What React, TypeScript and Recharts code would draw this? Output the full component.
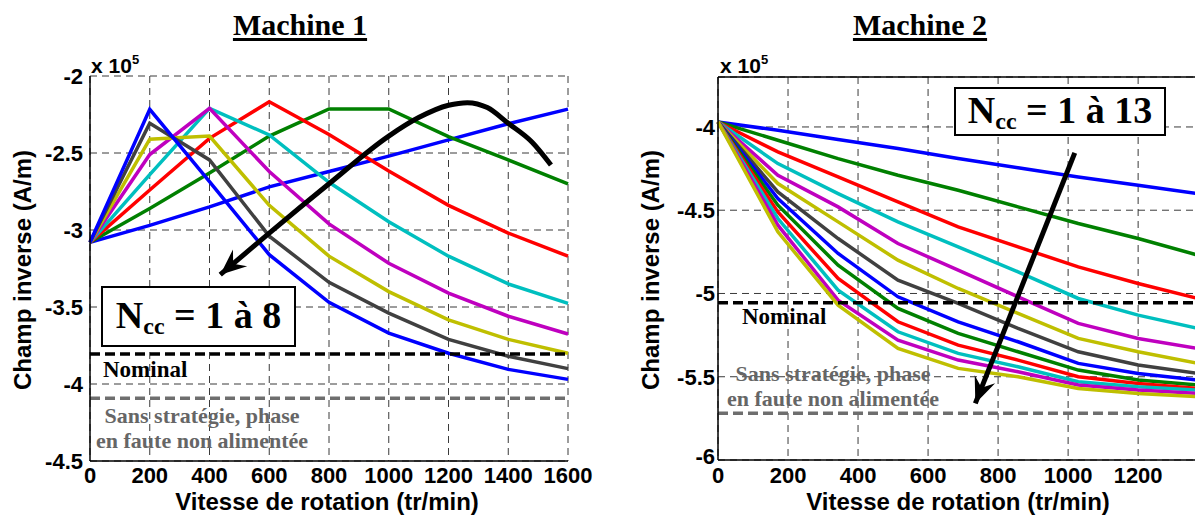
import { LineChart, Line, XAxis, YAxis, CartesianGrid, ReferenceLine } from 'recharts';

// Machine 1 : champ inverse (x 1e5 A/m) vs vitesse, Ncc = 1..8
const speedM1 = [0, 200, 400, 600, 800, 1000, 1200, 1400, 1600];
const m1Ncc1 = [-3.08, -2.97, -2.85, -2.72, -2.62, -2.52, -2.415, -2.31, -2.215];
const m1Ncc2 = [-3.08, -2.86, -2.63, -2.39, -2.214, -2.214, -2.394, -2.545, -2.7];
const m1Ncc3 = [-3.08, -2.74, -2.405, -2.167, -2.38, -2.617, -2.84, -3.02, -3.17];
const m1Ncc4 = [-3.08, -2.64, -2.21, -2.383, -2.69, -2.946, -3.17, -3.35, -3.476];
const m1Ncc5 = [-3.08, -2.51, -2.21, -2.62, -2.96, -3.216, -3.41, -3.56, -3.675];
const m1Ncc6 = [-3.08, -2.41, -2.39, -2.84, -3.17, -3.4, -3.584, -3.71, -3.8];
const m1Ncc7 = [-3.08, -2.307, -2.545, -3.04, -3.34, -3.54, -3.71, -3.82, -3.9];
const m1Ncc8 = [-3.08, -2.216, -2.686, -3.16, -3.47, -3.67, -3.8, -3.905, -3.97];
const m1Nominal = -3.805;
const m1SansStrategie = -4.093;
const m1XTicks = [0, 200, 400, 600, 800, 1000, 1200, 1400, 1600];
const m1YTicks = [-4.5, -4, -3.5, -3, -2.5, -2];
// annotation arrow (data units)
const arrowM1X = [436, 600, 800, 1000, 1100, 1200, 1263, 1330, 1400, 1480, 1543];
const arrowM1Y = [-3.29, -3.02, -2.7, -2.39, -2.27, -2.19, -2.173, -2.205, -2.307, -2.43, -2.578];

// Machine 2 : Ncc = 1..13
const speedM2 = [0, 171, 343, 514, 686, 857, 1029, 1200, 1371];
const m2Ncc1 = [-3.97, -4.02, -4.075, -4.13, -4.19, -4.245, -4.3, -4.35, -4.4];
const m2Ncc2 = [-3.97, -4.08, -4.19, -4.29, -4.38, -4.48, -4.58, -4.67, -4.77];
const m2Ncc3 = [-3.97, -4.15, -4.3, -4.45, -4.6, -4.72, -4.84, -4.94, -5.03];
const m2Ncc4 = [-3.97, -4.22, -4.4, -4.57, -4.72, -4.87, -5.03, -5.13, -5.21];
const m2Ncc5 = [-3.97, -4.29, -4.48, -4.7, -4.86, -5.02, -5.18, -5.27, -5.33];
const m2Ncc6 = [-3.97, -4.34, -4.57, -4.8, -4.97, -5.12, -5.27, -5.35, -5.42];
const m2Ncc7 = [-3.97, -4.39, -4.67, -4.92, -5.06, -5.21, -5.35, -5.43, -5.48];
const m2Ncc8 = [-3.97, -4.43, -4.76, -5.02, -5.17, -5.29, -5.42, -5.48, -5.52];
const m2Ncc9 = [-3.97, -4.47, -4.83, -5.09, -5.24, -5.35, -5.46, -5.52, -5.55];
const m2Ncc10 = [-3.97, -4.51, -4.91, -5.17, -5.31, -5.4, -5.5, -5.54, -5.57];
const m2Ncc11 = [-3.97, -4.55, -4.98, -5.23, -5.36, -5.44, -5.53, -5.56, -5.58];
const m2Ncc12 = [-3.97, -4.59, -5.04, -5.28, -5.4, -5.47, -5.55, -5.58, -5.6];
const m2Ncc13 = [-3.97, -4.63, -5.07, -5.33, -5.45, -5.5, -5.57, -5.6, -5.62];
const m2Nominal = -5.055;
const m2SansStrategie = -5.72;
const m2XTicks = [0, 200, 400, 600, 800, 1000, 1200];
const m2YTicks = [-6, -5.5, -5, -4.5, -4];
const arrowM2X = [735, 1019];
const arrowM2Y = [-5.66, -4.156];

// matlab default colour order
const COLORS = ['#0000ff', '#008000', '#ff0000', '#00bfbf', '#bf00bf', '#bfbf00', '#404040'];

const m1Series = [m1Ncc1, m1Ncc2, m1Ncc3, m1Ncc4, m1Ncc5, m1Ncc6, m1Ncc7, m1Ncc8];
const m2Series = [
  m2Ncc1, m2Ncc2, m2Ncc3, m2Ncc4, m2Ncc5, m2Ncc6, m2Ncc7,
  m2Ncc8, m2Ncc9, m2Ncc10, m2Ncc11, m2Ncc12, m2Ncc13,
];

const toRows = (xs: number[], series: number[][]) =>
  xs.map((x, i) => {
    const row: Record<string, number> = { x };
    series.forEach((s, k) => (row[`n${k + 1}`] = s[i]));
    return row;
  });

const toXY = (xs: number[], ys: number[]) => xs.map((x, i) => ({ x, y: ys[i] }));

const m1Rows = toRows(speedM1, m1Series);
const m2Rows = toRows(speedM2, m2Series);

const SANS = '"Liberation Sans", Arial, sans-serif';
const SERIF = '"Liberation Serif", "Times New Roman", serif';
const tickStyle = { fill: '#000', fontSize: 22, fontWeight: 700, fontFamily: SANS };
const GRID = '#3a3a3a';

// y tick for machine 2: bottom label lifted a little so it clears the "0"
const m2YTick = (props: any) => {
  const { x, y, payload } = props;
  const lift = payload.value === m2YTicks[0] ? -4 : 0;
  return (
    <text x={x} y={y + lift} dy="0.36em" textAnchor="end" {...tickStyle}>
      {payload.value}
    </text>
  );
};

// arrow head drawn on the first point of the annotation line
const arrowHead = (props: any) => {
  const { cx, cy, index, points } = props;
  if (index !== 0 || !points || points.length < 2) return <g key={`a${index}`} />;
  const p = points[1];
  const dx = cx - p.x;
  const dy = cy - p.y;
  const len = Math.hypot(dx, dy) || 1;
  const ux = dx / len;
  const uy = dy / len;
  const nx = -uy;
  const ny = ux;
  const L = 26;
  const W = 11;
  const pts = [
    [cx, cy],
    [cx - ux * L + nx * W, cy - uy * L + ny * W],
    [cx - ux * L * 0.65, cy - uy * L * 0.65],
    [cx - ux * L - nx * W, cy - uy * L - ny * W],
  ]
    .map((q) => q.join(','))
    .join(' ');
  return <polygon key="head" points={pts} fill="#000" stroke="none" />;
};

const abs = (extra: any) => ({ position: 'absolute' as const, whiteSpace: 'nowrap' as const, ...extra });

function NccBox({ left, top, width, height, label }: any) {
  return (
    <div
      style={abs({
        left,
        top,
        width,
        height,
        boxSizing: 'border-box',
        border: '2px solid #000',
        background: '#fff',
        display: 'flex',
        alignItems: 'center',
        justifyContent: 'center',
        fontFamily: SERIF,
        fontWeight: 700,
        fontSize: 38,
        lineHeight: 1,
        color: '#000',
      })}
    >
      <span>
        N<sub style={{ fontSize: 24, verticalAlign: '-0.25em' }}>cc</sub> = 1 à {label}
      </span>
    </div>
  );
}

function Annot({ left, top, lines, color, size }: any) {
  return (
    <div
      style={abs({
        left,
        top,
        fontFamily: SERIF,
        fontWeight: 700,
        fontSize: size,
        lineHeight: `${size + 3}px`,
        color,
        textAlign: 'center',
      })}
    >
      {lines.map((l: string) => (
        <div key={l}>{l}</div>
      ))}
    </div>
  );
}

export default function App() {
  return (
    <div
      style={{
        position: 'fixed',
        left: 0,
        top: 0,
        width: 1195,
        height: 516,
        overflow: 'hidden',
        background: '#fff',
      }}
    >
      {/* Machine 1 */}
      <LineChart
        width={600}
        height={516}
        data={m1Rows}
        margin={{ top: 76, right: 32, left: 0, bottom: 25 }}
        style={{ position: 'absolute', left: 0, top: 0 }}
      >
        <CartesianGrid strokeDasharray="7 5" stroke={GRID} strokeWidth={1} />
        <XAxis
          dataKey="x"
          type="number"
          domain={[0, 1600]}
          ticks={m1XTicks}
          height={30}
          tickLine={false}
          tickSize={0}
          tickMargin={6}
          axisLine={{ stroke: '#000', strokeWidth: 1.5 }}
          tick={tickStyle}
          interval={0}
        />
        <YAxis
          type="number"
          domain={[-4.5, -2]}
          ticks={m1YTicks}
          width={90}
          tickLine={false}
          tickSize={0}
          tickMargin={7}
          axisLine={{ stroke: '#000', strokeWidth: 1.5 }}
          tick={tickStyle}
          interval={0}
        />
        {m1Series.map((_, k) => (
          <Line
            key={`m1n${k}`}
            dataKey={`n${k + 1}`}
            type="linear"
            stroke={COLORS[k % COLORS.length]}
            strokeWidth={3.5}
            dot={false}
            activeDot={false}
            isAnimationActive={false}
          />
        ))}
        <ReferenceLine y={m1Nominal} stroke="#000" strokeWidth={3.5} strokeDasharray="10 5" />
        <ReferenceLine y={m1SansStrategie} stroke="#6e6e6e" strokeWidth={3.5} strokeDasharray="10 5" />
        <Line
          data={toXY(arrowM1X, arrowM1Y)}
          dataKey="y"
          type="monotone"
          stroke="#000"
          strokeWidth={5}
          dot={arrowHead}
          activeDot={false}
          isAnimationActive={false}
        />
      </LineChart>

      {/* Machine 2 */}
      <LineChart
        width={620}
        height={516}
        data={m2Rows}
        margin={{ top: 77, right: 22, left: 0, bottom: 26 }}
        style={{ position: 'absolute', left: 600, top: 0 }}
      >
        <CartesianGrid strokeDasharray="7 5" stroke={GRID} strokeWidth={1} />
        <XAxis
          dataKey="x"
          type="number"
          domain={[0, 1371]}
          ticks={m2XTicks}
          height={30}
          tickLine={false}
          tickSize={0}
          tickMargin={7}
          axisLine={{ stroke: '#000', strokeWidth: 1.5 }}
          tick={tickStyle}
          interval={0}
        />
        <YAxis
          type="number"
          domain={[-6, -3.7]}
          ticks={m2YTicks}
          width={118}
          tickLine={false}
          tickSize={0}
          tickMargin={3}
          axisLine={{ stroke: '#000', strokeWidth: 1.5 }}
          tick={m2YTick}
          interval={0}
        />
        <ReferenceLine y={-3.7} stroke="#000" strokeWidth={1.5} />
        {m2Series.map((_, k) => (
          <Line
            key={`m2n${k}`}
            dataKey={`n${k + 1}`}
            type="linear"
            stroke={COLORS[k % COLORS.length]}
            strokeWidth={3.5}
            dot={false}
            activeDot={false}
            isAnimationActive={false}
          />
        ))}
        <ReferenceLine y={m2Nominal} stroke="#000" strokeWidth={3.5} strokeDasharray="10 5" />
        <ReferenceLine y={m2SansStrategie} stroke="#6e6e6e" strokeWidth={3.5} strokeDasharray="10 5" />
        <Line
          data={toXY(arrowM2X, arrowM2Y)}
          dataKey="y"
          type="linear"
          stroke="#000"
          strokeWidth={5}
          dot={arrowHead}
          activeDot={false}
          isAnimationActive={false}
        />
      </LineChart>

      {/* titles */}
      {[
        { t: 'Machine 1', x: 300 },
        { t: 'Machine 2', x: 920 },
      ].map((d) => (
        <div
          key={d.t}
          style={abs({
            left: d.x,
            top: 10,
            transform: 'translateX(-50%)',
            fontFamily: SERIF,
            fontWeight: 700,
            fontSize: 30,
            lineHeight: '30px',
            textDecoration: 'underline',
            textDecorationThickness: '3px',
            textUnderlineOffset: '3px',
            color: '#000',
          })}
        >
          {d.t}
        </div>
      ))}

      {/* exponent labels */}
      {[91, 720].map((x) => (
        <div
          key={x}
          style={abs({ left: x, top: 49, fontFamily: SANS, fontWeight: 700, fontSize: 21, lineHeight: '21px' })}
        >
          x 10<sup style={{ fontSize: 13, verticalAlign: '0.7em' }}>5</sup>
        </div>
      ))}

      {/* axis titles */}
      {[327, 958].map((x) => (
        <div
          key={`xt${x}`}
          style={abs({
            left: x,
            top: 490,
            transform: 'translateX(-50%)',
            fontFamily: SANS,
            fontWeight: 700,
            fontSize: 24,
            lineHeight: '24px',
          })}
        >
          Vitesse de rotation (tr/min)
        </div>
      ))}
      {[23, 651].map((x) => (
        <div
          key={`yt${x}`}
          style={abs({
            left: x,
            top: 270,
            transform: 'translate(-50%, -50%) rotate(-90deg)',
            fontFamily: SANS,
            fontWeight: 700,
            fontSize: 24,
            lineHeight: '24px',
          })}
        >
          Champ inverse (A/m)
        </div>
      ))}

      {/* annotations */}
      <NccBox left={101} top={286} width={195} height={61} label="8" />
      <NccBox left={954} top={87} width={212} height={49} label="13" />
      <Annot left={103} top={357} lines={['Nominal']} color="#000" size={23} />
      <Annot left={742} top={304} lines={['Nominal']} color="#000" size={23} />
      <Annot left={96} top={403} lines={['Sans stratégie, phase', 'en faute non alimentée']} color="#666" size={22} />
      <Annot left={727} top={361} lines={['Sans stratégie, phase', 'en faute non alimentée']} color="#666" size={22} />
    </div>
  );
}
